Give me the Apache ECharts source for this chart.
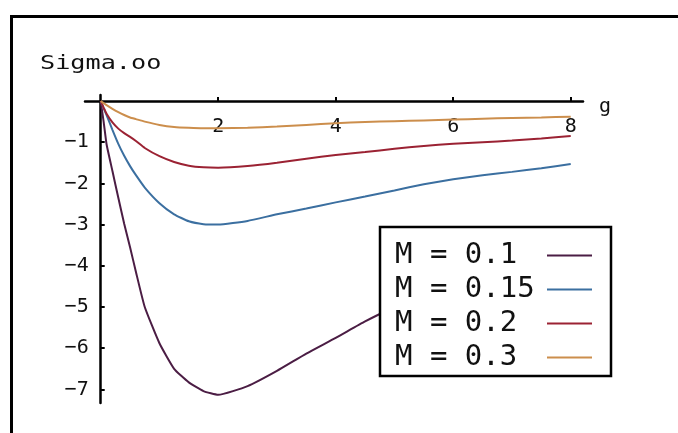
<!DOCTYPE html>
<html>
<head>
<meta charset="utf-8">
<script src="https://cdn.jsdelivr.net/npm/echarts@6/dist/echarts.min.js"></script>
<style>
  html, body { margin: 0; padding: 0; background: #fff; }
  #chart { width: 678px; height: 433px; }
</style>
</head>
<body>
<div id="chart"></div>
<script>
// Sample points along g (shared by every curve)
const gValues = [0, 0.05, 0.1, 0.2, 0.3, 0.4, 0.5, 0.6, 0.75, 1, 1.25, 1.5, 1.75, 2,
                 2.5, 3, 3.5, 4, 4.5, 5, 5.5, 6, 6.5, 7, 7.5, 8];

// Sigma.oo for each mass
const sigmaM010 = [0, -0.5, -1.05, -1.7, -2.35, -2.98, -3.55, -4.15, -5.0, -5.88, -6.5, -6.83, -7.04, -7.13,
                   -6.92, -6.55, -6.13, -5.75, -5.35, -5.0, -4.68, -4.4, -4.15, -3.92, -3.72, -3.53];
const sigmaM015 = [0, -0.17, -0.34, -0.7, -1.04, -1.33, -1.58, -1.8, -2.1, -2.48, -2.75, -2.92, -2.99, -3.0,
                   -2.91, -2.75, -2.61, -2.46, -2.32, -2.17, -2.02, -1.9, -1.8, -1.72, -1.63, -1.53];
const sigmaM020 = [0, -0.16, -0.31, -0.52, -0.67, -0.78, -0.87, -0.97, -1.14, -1.34, -1.48, -1.57, -1.61, -1.62,
                   -1.58, -1.5, -1.4, -1.31, -1.24, -1.16, -1.09, -1.04, -1.0, -0.96, -0.91, -0.85];
const sigmaM030 = [0, -0.05, -0.1, -0.19, -0.27, -0.34, -0.4, -0.44, -0.5, -0.58, -0.63, -0.65, -0.66, -0.66,
                   -0.65, -0.62, -0.58, -0.54, -0.51, -0.49, -0.47, -0.45, -0.43, -0.41, -0.4, -0.38];

const seriesNames = ['M = 0.1', 'M = 0.15', 'M = 0.2', 'M = 0.3'];
const seriesColors = ['#4b1d44', '#3b6fa0', '#9b2233', '#cc8e4c'];
const seriesValues = [sigmaM010, sigmaM015, sigmaM020, sigmaM030];

// Tick positions
const xTicks = [2, 4, 6, 8];
const yTicks = [-7, -6, -5, -4, -3, -2, -1];

// Axis ranges: the full frame reaches a little past the origin on both axes
const xRange = [-0.267, 8.209];
const yRange = [-7.33, 0.146];

const monoFont = '"DejaVu Sans Mono", "Liberation Mono", monospace';
const tickFont = { fontFamily: monoFont, fontSize: 20, color: '#111' };

const chart = echarts.init(document.getElementById('chart'), null, { renderer: 'canvas' });

const series = seriesNames.map((name, i) => ({
  name: name,
  type: 'line',
  xAxisIndex: 0,
  yAxisIndex: 0,
  data: gValues.map((g, k) => [g, seriesValues[i][k]]),
  showSymbol: false,
  symbol: 'none',
  smooth: 0.15,
  lineStyle: { color: seriesColors[i], width: 2 },
  itemStyle: { color: seriesColors[i] },
  animation: false
}));

chart.setOption({
  backgroundColor: '#ffffff',
  animation: false,
  grid: [
    // full frame: carries the curves and the two axis lines crossing at the origin
    { left: 85, right: 95, top: 95, bottom: 30, containLabel: false, outerBoundsMode: 'none' },
    // quadrant below/right of the origin: carries ticks and tick labels
    { left: 100.7, right: 95, top: 101, bottom: 30, containLabel: false, outerBoundsMode: 'none' }
  ],
  xAxis: [
    {
      type: 'value', gridIndex: 0,
      min: xRange[0], max: xRange[1],
      name: 'g',
      nameLocation: 'end',
      nameGap: 16,
      nameTextStyle: { fontFamily: monoFont, fontSize: 20, color: '#111', verticalAlign: 'top', lineHeight: 12 },
      axisLine: { onZero: true, lineStyle: { color: '#000', width: 2.5 } },
      axisTick: { show: false },
      axisLabel: { show: false },
      splitLine: { show: false }
    },
    {
      type: 'value', gridIndex: 1, position: 'top',
      min: 0, max: xRange[1],
      axisLine: { show: false },
      axisTick: { show: true, inside: false, length: 4, customValues: xTicks, lineStyle: { color: '#000', width: 2 } },
      axisLabel: Object.assign({ customValues: xTicks, inside: true, margin: 16 }, tickFont),
      splitLine: { show: false }
    }
  ],
  yAxis: [
    {
      type: 'value', gridIndex: 0,
      min: yRange[0], max: yRange[1],
      axisLine: { onZero: true, lineStyle: { color: '#000', width: 2.5 } },
      axisTick: { show: false },
      axisLabel: { show: false },
      splitLine: { show: false }
    },
    {
      type: 'value', gridIndex: 1, position: 'left',
      min: yRange[0], max: 0,
      axisLine: { show: false },
      axisTick: { show: true, inside: true, length: 4, customValues: yTicks, lineStyle: { color: '#000', width: 2 } },
      axisLabel: Object.assign({ customValues: yTicks, margin: 12, formatter: v => '\u2212' + Math.abs(v) }, tickFont),
      splitLine: { show: false }
    }
  ],
  legend: {
    orient: 'vertical',
    left: 380,
    top: 227,
    align: 'right',
    padding: [13, 19, 3, 15],
    itemGap: 3,
    itemWidth: 45,
    itemHeight: 2,
    icon: 'rect',
    backgroundColor: '#ffffff',
    borderColor: '#000',
    borderWidth: 2.5,
    formatter: '{n|{name}}',
    textStyle: {
      fontFamily: monoFont, fontSize: 29, color: '#111', lineHeight: 31,
      rich: { n: { width: 147, align: 'left', fontFamily: monoFont, fontSize: 29, color: '#111', lineHeight: 31 } }
    },
    data: seriesNames
  },
  graphic: [
    {
      type: 'rect',
      shape: { x: 11.5, y: 16.5, width: 720, height: 460 },
      style: { fill: null, stroke: '#000', lineWidth: 3 },
      silent: true,
      z: 10
    },
    {
      type: 'text',
      x: 40,
      y: 64,
      scaleX: 1.26,
      style: { text: 'Sigma.oo', fontFamily: monoFont, fontSize: 20, fill: '#111', verticalAlign: 'middle', align: 'left' },
      silent: true
    }
  ],
  series: series
});
</script>
</body>
</html>
